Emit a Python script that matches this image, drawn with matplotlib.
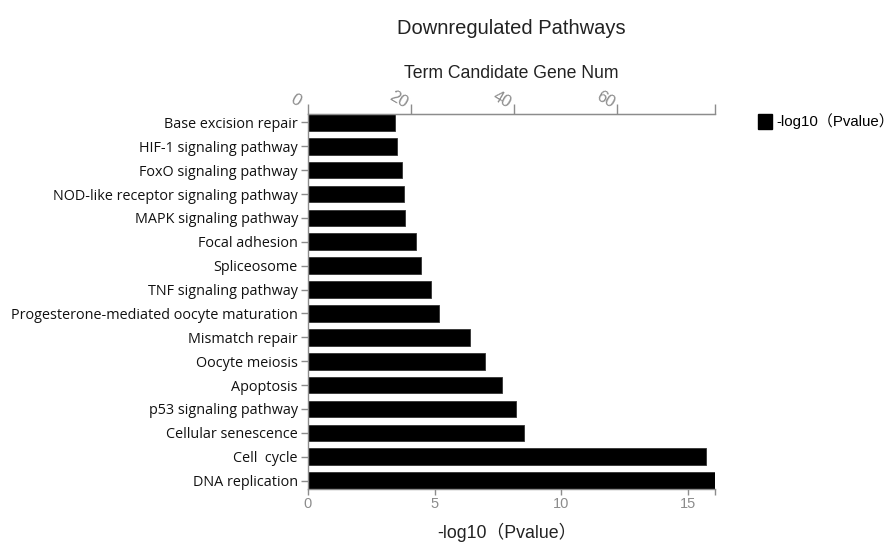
import numpy as np
import matplotlib.pyplot as plt
from matplotlib.patches import Patch
from matplotlib.transforms import ScaledTranslation, blended_transform_factory

pathways = [
    "Base excision repair",
    "HIF-1 signaling pathway",
    "FoxO signaling pathway",
    "NOD-like receptor signaling pathway",
    "MAPK signaling pathway",
    "Focal adhesion",
    "Spliceosome",
    "TNF signaling pathway",
    "Progesterone-mediated oocyte maturation",
    "Mismatch repair",
    "Oocyte meiosis",
    "Apoptosis",
    "p53 signaling pathway",
    "Cellular senescence",
    "Cell  cycle",
    "DNA replication",
]
neg_log_p = [3.44, 3.53, 3.73, 3.78, 3.84, 4.28, 4.48, 4.87, 5.19,
             6.41, 7.00, 7.67, 8.20, 8.54, 15.70, 16.05]
pval_ticks = [0, 5, 10, 15]
gene_ticks = [0, 20, 40, 60]
gene_max = 78.9

GRAY = "#8c8c8c"
SANS = ["Liberation Sans", "Noto Sans CJK SC", "DejaVu Sans"]
PV_LABEL = "-log10（Pvalue）"

fig = plt.figure(figsize=(8.96, 5.42), dpi=100)
ax = fig.add_axes([0.3434, 0.0978, 0.4546, 0.6919])

y = np.arange(len(pathways))
ax.barh(y, neg_log_p, height=0.7, color="black", edgecolor="#333333", linewidth=0.6)
ax.set_ylim(len(pathways) - 0.65, -0.35)
ax.set_xlim(0, max(neg_log_p))
ax.set_yticks(y)
ax.set_yticklabels(pathways, family="Open Sans", fontsize=10.4, color="#111111")
ax.set_xticks(pval_ticks)
ax.set_xticks([max(neg_log_p)], minor=True)
ax.set_xticklabels([str(t) for t in pval_ticks], family=SANS, fontsize=10.5, color=GRAY)
ax.tick_params(axis="x", which="both", length=4, color=GRAY, width=1, pad=2)
ax.tick_params(axis="y", length=5, color=GRAY, width=1, pad=2)
ax.spines["right"].set_visible(False)
for s in ["left", "bottom", "top"]:
    ax.spines[s].set_color(GRAY)
    ax.spines[s].set_linewidth(1)
ax.set_xlabel(PV_LABEL, family=SANS, fontsize=12.8, color="#222222")
ax.xaxis.set_label_coords(0.49, -0.115)
ax.xaxis.label.set_va("center")

# top axis: gene count, labels slanted and set up-left of each tick
ax2 = ax.twiny()
ax2.set_xlim(0, gene_max)
ax2.set_xticks(gene_ticks)
ax2.set_xticks([gene_max], minor=True)
ax2.set_xticklabels([])
ax2.tick_params(axis="x", which="both", length=7, color=GRAY, width=1)
top_tr = blended_transform_factory(ax2.transData, ax2.transAxes) + \
    ScaledTranslation(-12 / 100, 14 / 100, fig.dpi_scale_trans)
for t in gene_ticks:
    ax2.text(t, 1, str(t), transform=top_tr, family=SANS, fontsize=12,
             color=GRAY, rotation=-30, ha="center", va="center")
for s in ["right", "left", "bottom"]:
    ax2.spines[s].set_visible(False)
ax2.spines["top"].set_color(GRAY)
ax2.set_xlabel("Term Candidate Gene Num", family=SANS, fontsize=12.7,
               color="#222222")
ax2.xaxis.set_label_coords(0.5, 1.107)
ax2.xaxis.label.set_va("center")

fig.text(0.571, 0.947, "Downregulated Pathways", family=SANS, fontsize=14.5,
         color="#222222", ha="center", va="center")

fig.legend(handles=[Patch(facecolor="black", edgecolor="black", label=PV_LABEL)],
           loc="upper left", bbox_to_anchor=(0.843, 0.796), frameon=False,
           prop={"family": SANS, "size": 10.8}, handlelength=0.9,
           handleheight=1.1, handletextpad=0.3, borderaxespad=0, borderpad=0.2)

fig.savefig("out.png", dpi=100)
